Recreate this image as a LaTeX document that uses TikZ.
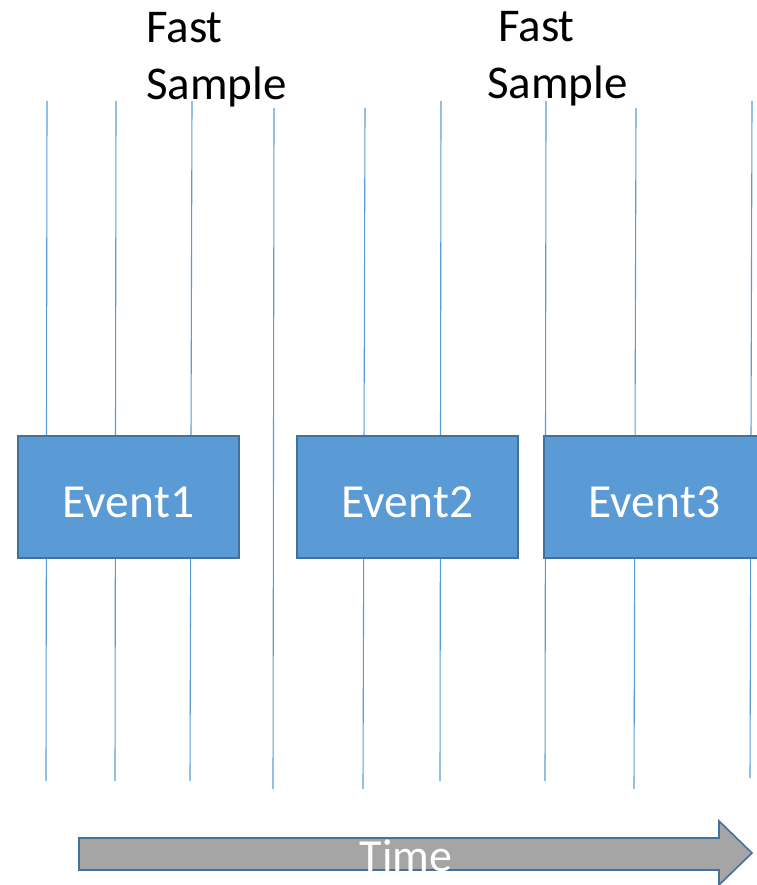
\documentclass[tikz,border=0pt]{standalone}
\usepackage{fontspec}
\setmainfont{Carlito}
\usetikzlibrary{positioning}
\definecolor{lineblue}{HTML}{5B9BD5}
\definecolor{boxedge}{HTML}{41719C}
\definecolor{arrowgray}{HTML}{A5A5A5}

\begin{document}
\begin{tikzpicture}[x=1pt,y=-1pt,
	tick/.style={draw=lineblue,line width=1.1pt},
	event/.style={draw=boxedge,fill=lineblue,line width=1.6pt,minimum width=221pt,minimum height=122pt,inner sep=0pt,text height=41pt,text depth=0pt,text=white,font=\fontsize{47.5}{57}\selectfont},
	sample/.style={inner sep=0pt,anchor=base west,font=\fontsize{47}{57}\selectfont},
	timearrow/.style={draw=boxedge,fill=arrowgray,line width=1.6pt,line join=miter}]
			\useasboundingbox (0,0) rectangle (756,885);
			% sample lines
			\foreach \xa/\ya/\xb/\yb in {47/101/46/781, 116/101/115/781, 192/101/190/781,
				274/108/273/789, 365/108/363/789, 441/101/440/781, 546/101/545/781,
				636/108/634/789, 752/101/750/778}
				\draw[tick] (\xa,\ya) -- (\xb,\yb);
			\node[sample] (fast1) at (146,43) {Fast};
			\node[sample] (sample1) at (146,100) {Sample};
			\node[sample] (fast2) at (498,42) {Fast};
			\node[sample] (sample2) at (487,99) {Sample};
			\node[event] (e1) at (128.5,497) {Event1};
			\node[event] (e2) at (407.5,497) {Event2};
			\node[event] (e3) at (654.5,497) {Event3};
			% time arrow
			\draw[timearrow] (79,838) -- (719,838) -- (719,821) -- (752,853) -- (719,885) -- (719,870) -- (79,870) -- cycle;
			\node[text=white,font=\fontsize{46}{55}\selectfont,anchor=base] (time) at (406,871) {Time};
		\end{tikzpicture}
\end{document}
